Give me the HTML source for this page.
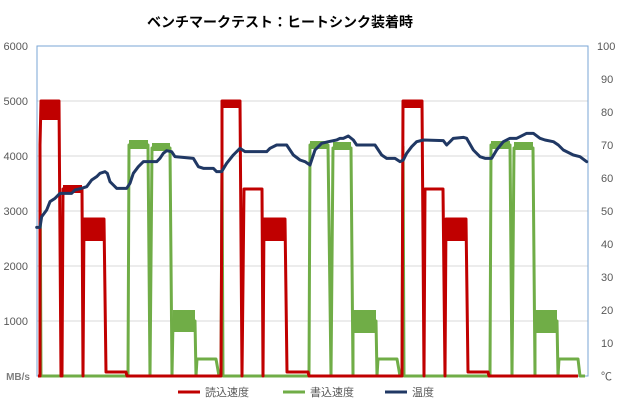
<!DOCTYPE html>
<html><head><meta charset="utf-8"><style>
body{margin:0;background:#fff;}
svg{display:block;font-family:"Liberation Sans","Noto Sans CJK JP",sans-serif;}
</style></head><body>
<svg width="620" height="405" viewBox="0 0 620 405" xmlns="http://www.w3.org/2000/svg">
<rect width="620" height="405" fill="#fff"/>
<text x="280" y="27" text-anchor="middle" font-size="14" font-weight="bold" fill="#000">ベンチマークテスト：ヒートシンク装着時</text>
<g stroke="#d9d9d9" stroke-width="1">
<line x1="37" y1="101" x2="588" y2="101"/><line x1="37" y1="156" x2="588" y2="156"/>
<line x1="37" y1="211" x2="588" y2="211"/><line x1="37" y1="266" x2="588" y2="266"/>
<line x1="37" y1="321" x2="588" y2="321"/>
</g>
<rect x="37" y="46" width="551" height="330" fill="none" stroke="#7aa6d4" stroke-width="1"/>
<g font-size="11" fill="#595959" text-anchor="end">
<text x="28" y="50">6000</text><text x="28" y="105">5000</text><text x="28" y="160">4000</text>
<text x="28" y="215">3000</text><text x="28" y="270">2000</text><text x="28" y="325">1000</text>
<text x="30" y="380" font-size="10" font-weight="bold" fill="#7f7f7f">MB/s</text>
</g>
<g font-size="11" fill="#595959">
<text x="597" y="50">100</text><text x="601" y="83">90</text><text x="601" y="116">80</text>
<text x="601" y="149">70</text><text x="601" y="182">60</text><text x="601" y="215">50</text>
<text x="601" y="248">40</text><text x="601" y="281">30</text><text x="601" y="314">20</text>
<text x="601" y="347">10</text><text x="601" y="380">℃</text>
</g>
<!-- green -->
<g fill="#70ad47">
<rect x="129" y="140" width="19" height="9"/><rect x="152" y="143" width="18" height="8"/>
<rect x="173" y="310" width="22" height="22"/>
<rect x="310" y="141" width="18" height="8"/><rect x="333" y="142" width="18" height="8"/>
<rect x="353" y="310" width="23" height="23"/>
<rect x="491" y="141" width="19" height="8"/><rect x="514" y="142" width="19" height="8"/>
<rect x="535" y="310" width="22" height="23"/>
</g>
<polyline fill="none" stroke="#70ad47" stroke-width="3" stroke-linejoin="round" points="
38,376 40,376 40,145 41,376 128,376 129,145 148,145 150,376 152,148 170,148 172,376 173,321 195,321 196,376 197,359 216,359 219,376 221,376 222,162 223,376 309,376 310,145 328,145 331,376 333,148 351,148 353,376 353,321 376,321 377,376 378,359 397,359 400,376 402,376 403,147 404,376 490,376 491,145 510,145 512,376 514,148 533,148 535,376 535,321 557,321 558,376 559,359 578,359 580,376 585,376"/>
<!-- red -->
<g fill="#c00000">
<rect x="40" y="100" width="20" height="20"/><rect x="63" y="185" width="19" height="8"/>
<rect x="84" y="219" width="20" height="22"/>
<rect x="222" y="100" width="18" height="8"/><rect x="264" y="219" width="21" height="22"/>
<rect x="403" y="100" width="19" height="8"/><rect x="446" y="219" width="20" height="22"/>
</g>
<polyline fill="none" stroke="#c00000" stroke-width="3" stroke-linejoin="round" points="
38,376 40,376 40,145 41,101 59,101 61,376 62,376 63,189 82,189 83,376 84,219 104,219 106,372 126,372 127,376 221,376 222,162 222,101 240,101 242,376 244,189 262,189 263,376 264,219 285,219 287,372 308,372 309,376 402,376 403,101 422,101 424,376 425,189 443,189 445,376 446,219 466,219 468,372 488,372 489,376 578,376"/>
<!-- temperature -->
<g fill="none" stroke="#203864" stroke-width="3" stroke-linejoin="round" stroke-linecap="round">
<polyline transform="translate(0,30) scale(0.33333)" vector-effect="non-scaling-stroke" style="vector-effect:non-scaling-stroke" points="110,592 120,592 125,560 140,540 150,515 165,505 180,490 200,490 215,490 225,480 245,475 260,470 275,450 290,440 300,430 315,425 322,430 330,455 340,465 350,475 380,475 390,460 400,430 415,410 430,395 470,395 480,385 490,370 500,362 515,365 525,380 580,385 595,410 610,415 640,415 650,425 665,425 680,400 700,375 720,355 735,365 800,365 810,355 830,345 860,345 880,375 900,390 915,395 930,405"/>
<polyline transform="translate(310,30) scale(0.33333)" style="vector-effect:non-scaling-stroke" points="0,405 15,360 35,340 55,335 80,330 90,325 100,325 115,318 130,330 140,345 160,345 195,345 215,375 230,385 255,385 270,395 280,390 290,370 305,350 320,335 340,330 400,332 410,345 420,335 430,325 460,322 470,325 490,360 510,380 525,385 545,385 560,360 580,335 600,325 620,325 630,320 650,310 670,310 690,325 705,330 730,335 745,345 760,360 790,375 810,380 830,395"/>
</g>
<!-- legend -->
<line x1="178" y1="392" x2="200" y2="392" stroke="#c00000" stroke-width="3"/>
<text x="205" y="396" font-size="11" fill="#595959">読込速度</text>
<line x1="283" y1="392" x2="305" y2="392" stroke="#70ad47" stroke-width="3"/>
<text x="310" y="396" font-size="11" fill="#595959">書込速度</text>
<line x1="385" y1="392" x2="407" y2="392" stroke="#203864" stroke-width="3"/>
<text x="412" y="396" font-size="11" fill="#595959">温度</text>
</svg>
</body></html>
